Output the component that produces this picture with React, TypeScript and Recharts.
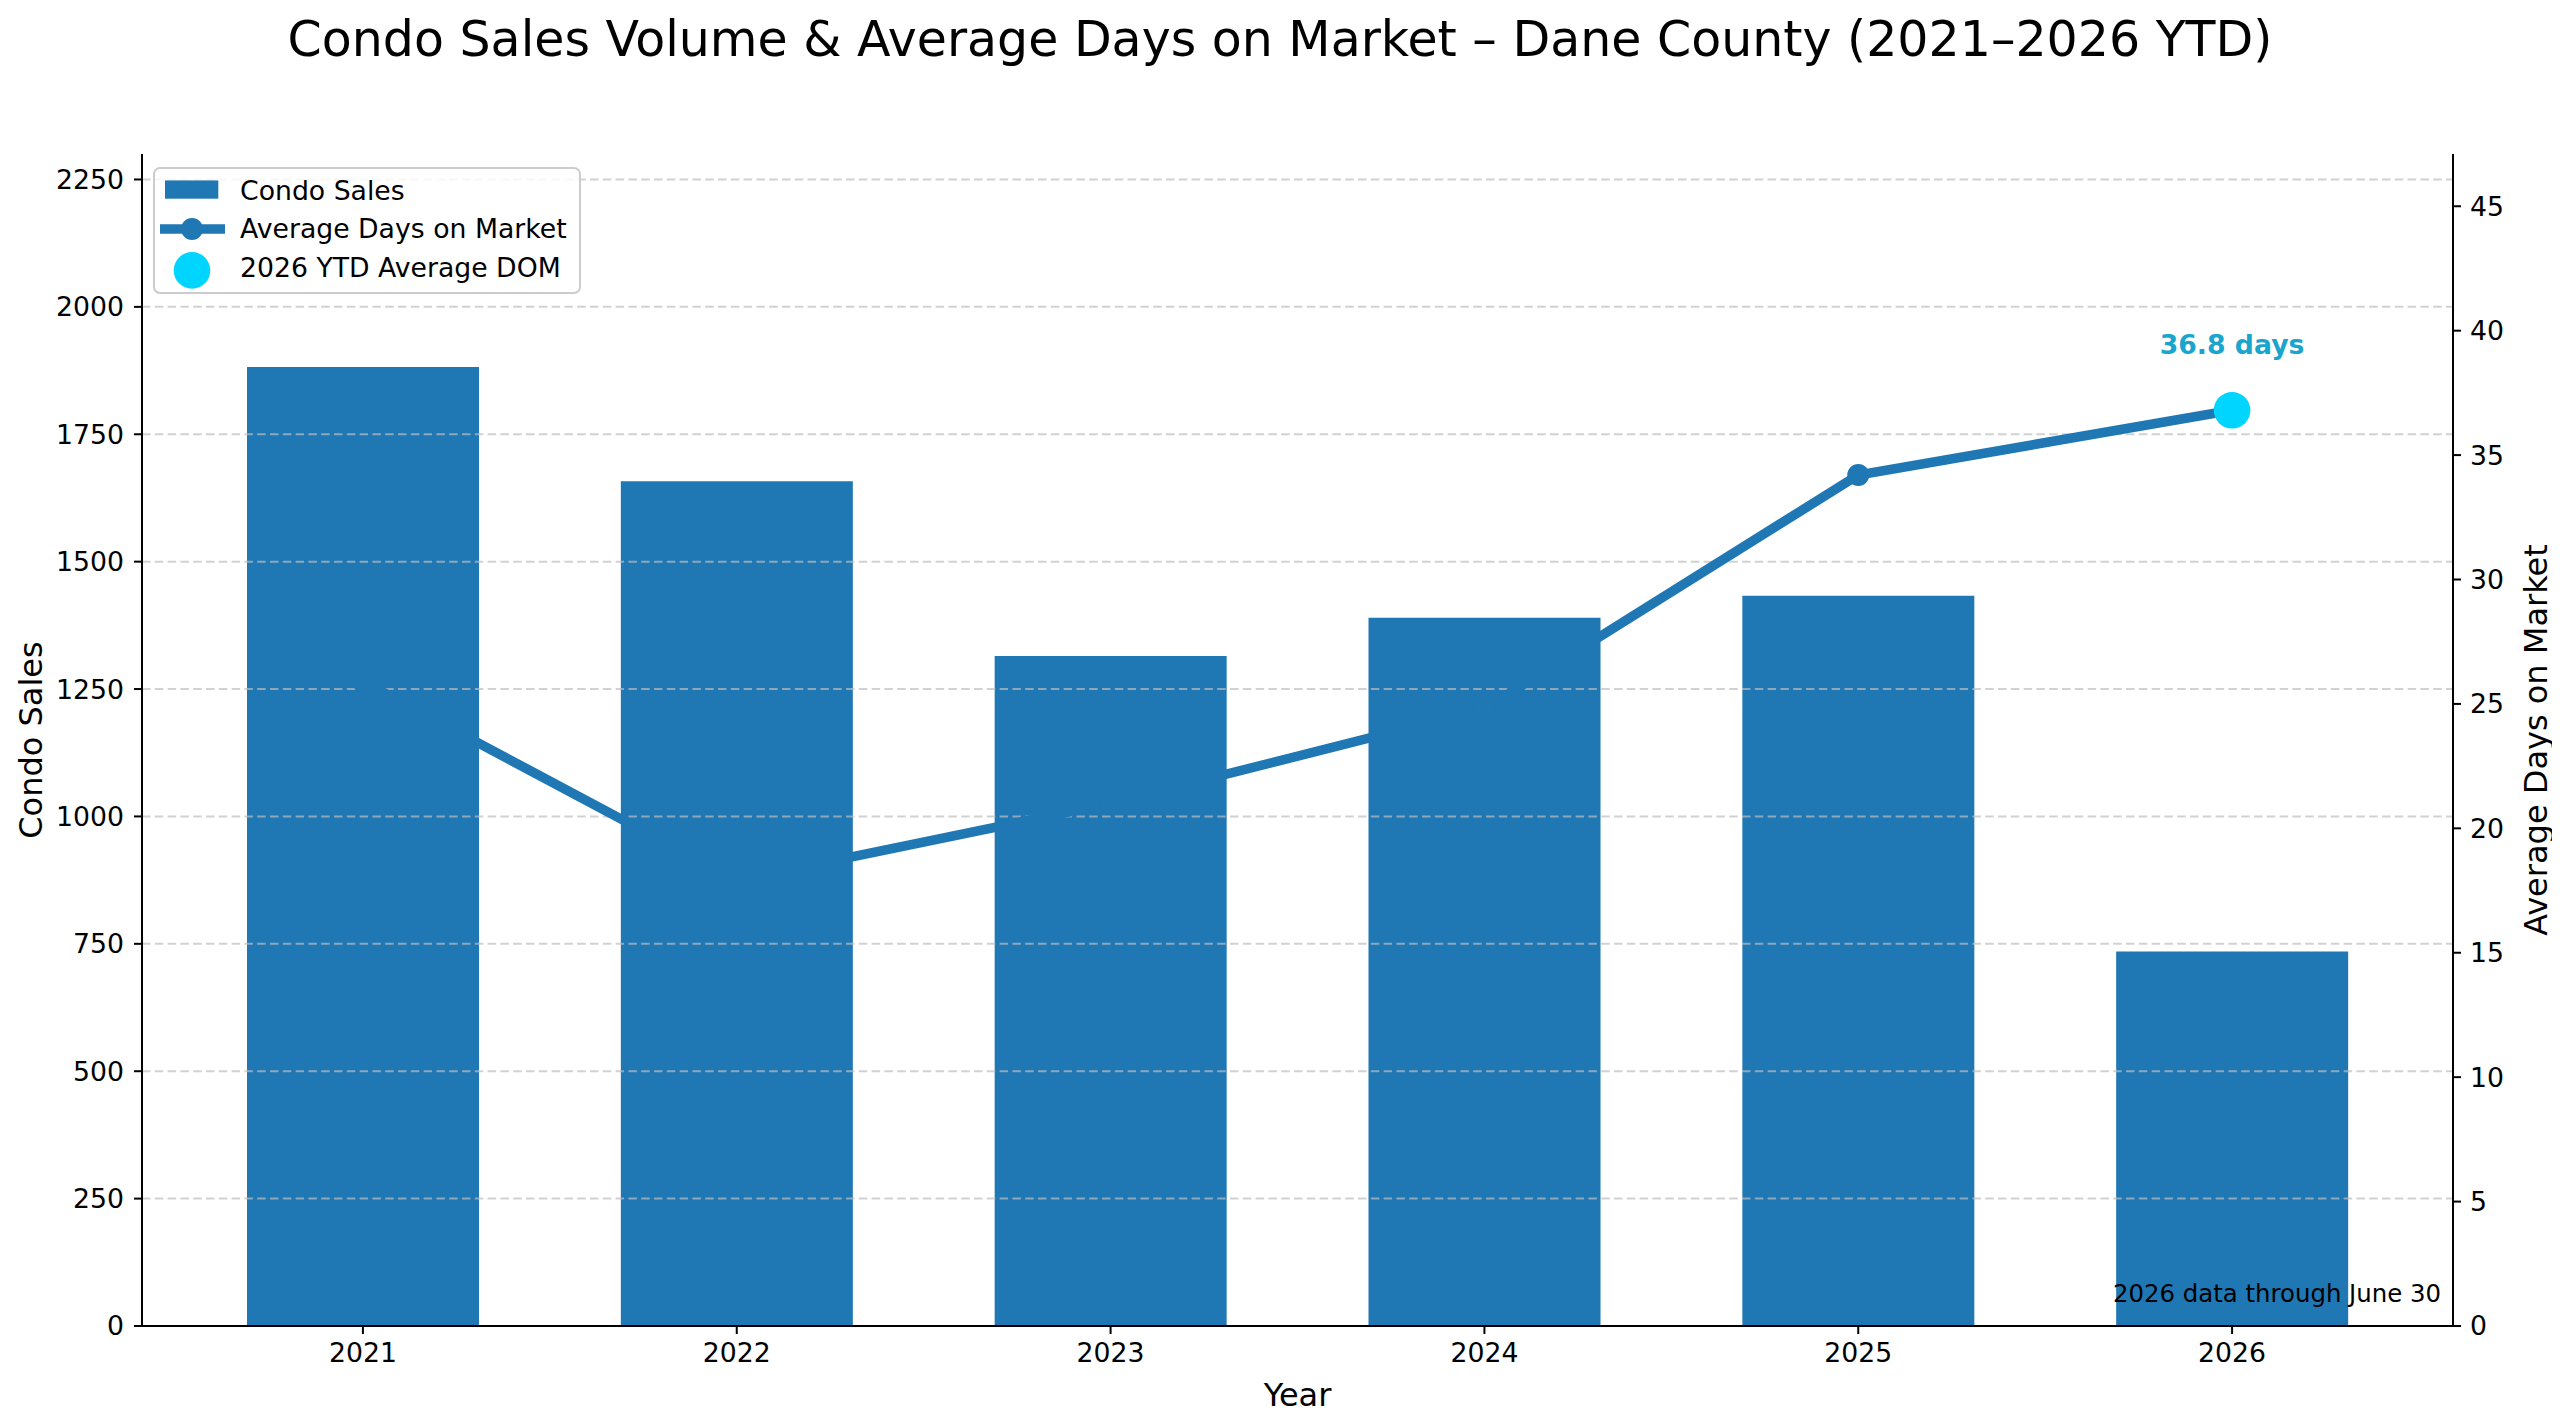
import React from 'react';
import {
  ComposedChart,
  Bar,
  Line,
  XAxis,
  YAxis,
  ReferenceLine,
  Legend,
  Label,
} from 'recharts';

const FONT = '"DejaVu Sans", Verdana, sans-serif';
const BAR_BLUE = '#1f77b4';
const CYAN = '#00d5ff';
const CYAN_TEXT = '#19a5cd';
const BASE_SIZE = 26.7;

// values
const years = ['2021', '2022', '2023', '2024', '2025', '2026'];
const condoSales = [1882, 1658, 1315, 1390, 1433, 735];
const avgDaysOnMarket = [25.9, 17.9, 21.0, 24.8, 34.2, 36.8];
const ytdAvgDom = [null, null, null, null, null, 36.8];

const salesTicks = [0, 250, 500, 750, 1000, 1250, 1500, 1750, 2000, 2250];
const domTicks = [0, 5, 10, 15, 20, 25, 30, 35, 40, 45];

const chartData = years.map((year, i) => ({
  year,
  sales: condoSales[i],
  dom: avgDaysOnMarket[i],
  ytd: ytdAvgDom[i],
}));

const tickStyle = { fill: '#000', fontSize: BASE_SIZE, fontFamily: FONT };
const axisStroke = { stroke: '#000', strokeWidth: 2 };

// regular markers in blue, the YTD point as a big cyan dot with its label
const renderDomDot = (props: any) => {
  const { cx, cy, payload, index } = props;
  if (cx == null || cy == null) return <g key={`dot-${index}`} />;
  if (payload && payload.ytd != null) {
    return (
      <g key={`dot-${index}`}>
        <circle cx={cx} cy={cy} r={18.3} fill={CYAN} />
        <text
          x={cx}
          y={cy - 56}
          textAnchor="middle"
          fontSize={BASE_SIZE}
          fontWeight="bold"
          fontFamily={FONT}
          fill={CYAN_TEXT}
        >
          {`${payload.ytd.toFixed(1)} days`}
        </text>
      </g>
    );
  }
  return <circle key={`dot-${index}`} cx={cx} cy={cy} r={11} fill={BAR_BLUE} />;
};

const renderLegend = () => (
  <svg width={428} height={127} style={{ display: 'block' }}>
    <rect x={1} y={1} width={426} height={125} rx={6} fill="#fff" fillOpacity={0.8} stroke="#cccccc" strokeWidth={2} />
    <rect x={12} y={13.4} width={53.3} height={18.3} fill={BAR_BLUE} />
    <text x={87} y={32.7} fontSize={BASE_SIZE} fontFamily={FONT} fill="#000">Condo Sales</text>
    <line x1={7} y1={62} x2={72} y2={62} stroke={BAR_BLUE} strokeWidth={9.5} />
    <circle cx={39} cy={62} r={11} fill={BAR_BLUE} />
    <text x={87} y={71} fontSize={BASE_SIZE} fontFamily={FONT} fill="#000">Average Days on Market</text>
    <circle cx={39} cy={103.4} r={18.3} fill={CYAN} />
    <text x={87} y={110.4} fontSize={BASE_SIZE} fontFamily={FONT} fill="#000">2026 YTD Average DOM</text>
  </svg>
);

const SalesAxisLabel = (props: any) => {
  const vb = props.viewBox || { x: 42, y: 154, width: 100, height: 1172 };
  const x = vb.x;
  const y = vb.y + vb.height / 2;
  return (
    <text x={x} y={y} transform={`rotate(-90, ${x}, ${y})`} textAnchor="middle" fontSize={32} fontFamily={FONT} fill="#000">
      Condo Sales
    </text>
  );
};

const DomAxisLabel = (props: any) => {
  const vb = props.viewBox || { x: 2453, y: 154, width: 100, height: 1172 };
  const x = vb.x + 94;
  const y = vb.y + vb.height / 2;
  return (
    <text x={x} y={y} transform={`rotate(-90, ${x}, ${y})`} textAnchor="middle" fontSize={32} fontFamily={FONT} fill="#000">
      Average Days on Market
    </text>
  );
};

const YearAxisLabel = (props: any) => {
  const vb = props.viewBox || { x: 142, y: 1326, width: 2311, height: 60 };
  return (
    <text x={vb.x + vb.width / 2} y={vb.y + 80} textAnchor="middle" fontSize={32} fontFamily={FONT} fill="#000">
      Year
    </text>
  );
};

export default function App() {
  return (
    <div
      style={{
        position: 'relative',
        width: 2560,
        height: 1425,
        margin: -8,
        background: '#fff',
        fontFamily: FONT,
        overflow: 'hidden',
      }}
    >
      <div
        style={{
          position: 'absolute',
          left: 0,
          top: 14.5,
          width: 2560,
          textAlign: 'center',
          fontSize: 49,
          lineHeight: 1,
          color: '#000',
        }}
      >
        Condo Sales Volume &amp; Average Days on Market – Dane County (2021–2026 YTD)
      </div>

      <ComposedChart
        width={2560}
        height={1425}
        data={chartData}
        margin={{ top: 154, right: 7, bottom: 39, left: 42 }}
        style={{ position: 'absolute', left: 0, top: 0 }}
      >
        <XAxis
          dataKey="year"
          height={60}
          padding={{ left: 34, right: 34 }}
          tick={tickStyle}
          tickSize={8}
          tickMargin={9}
          axisLine={axisStroke}
          tickLine={axisStroke}
          interval={0}
        >
          <Label content={YearAxisLabel} />
        </XAxis>
        <XAxis
          xAxisId="top"
          orientation="top"
          dataKey="year"
          height={0}
          tick={false}
          tickLine={false}
          axisLine={axisStroke}
        />
        <YAxis
          yAxisId="sales"
          orientation="left"
          width={100}
          domain={[0, 2300]}
          ticks={salesTicks}
          interval={0}
          tick={tickStyle}
          tickSize={8}
          tickMargin={10}
          axisLine={axisStroke}
          tickLine={axisStroke}
        >
          <Label content={SalesAxisLabel} />
        </YAxis>
        <YAxis
          yAxisId="dom"
          orientation="right"
          width={100}
          domain={[0, 47.1]}
          ticks={domTicks}
          interval={0}
          tick={tickStyle}
          tickSize={8}
          tickMargin={9}
          axisLine={axisStroke}
          tickLine={axisStroke}
        >
          <Label content={DomAxisLabel} />
        </YAxis>

        <Bar
          yAxisId="sales"
          dataKey="sales"
          name="Condo Sales"
          fill={BAR_BLUE}
          barSize={232}
          isAnimationActive={false}
        />

        {salesTicks
          .filter((t) => t > 0)
          .map((t) => (
            <ReferenceLine
              key={t}
              yAxisId="sales"
              y={t}
              stroke="#bdbdbd"
              strokeOpacity={0.7}
              strokeWidth={2}
              strokeDasharray="8.5 4.3"
            />
          ))}

        <Line
          yAxisId="dom"
          dataKey="dom"
          name="Average Days on Market"
          type="linear"
          stroke={BAR_BLUE}
          strokeWidth={9.5}
          dot={renderDomDot}
          activeDot={false}
          isAnimationActive={false}
        />

        <Legend
          content={renderLegend}
          layout="vertical"
          align="center"
          verticalAlign="middle"
          wrapperStyle={{ left: 153, top: 167, width: 428, height: 127 }}
        />
      </ComposedChart>

      <div
        style={{
          position: 'absolute',
          right: 119,
          top: 1282.4,
          fontSize: 24.4,
          lineHeight: 1,
          color: '#000',
          whiteSpace: 'nowrap',
        }}
      >
        2026 data through June 30
      </div>
    </div>
  );
}
